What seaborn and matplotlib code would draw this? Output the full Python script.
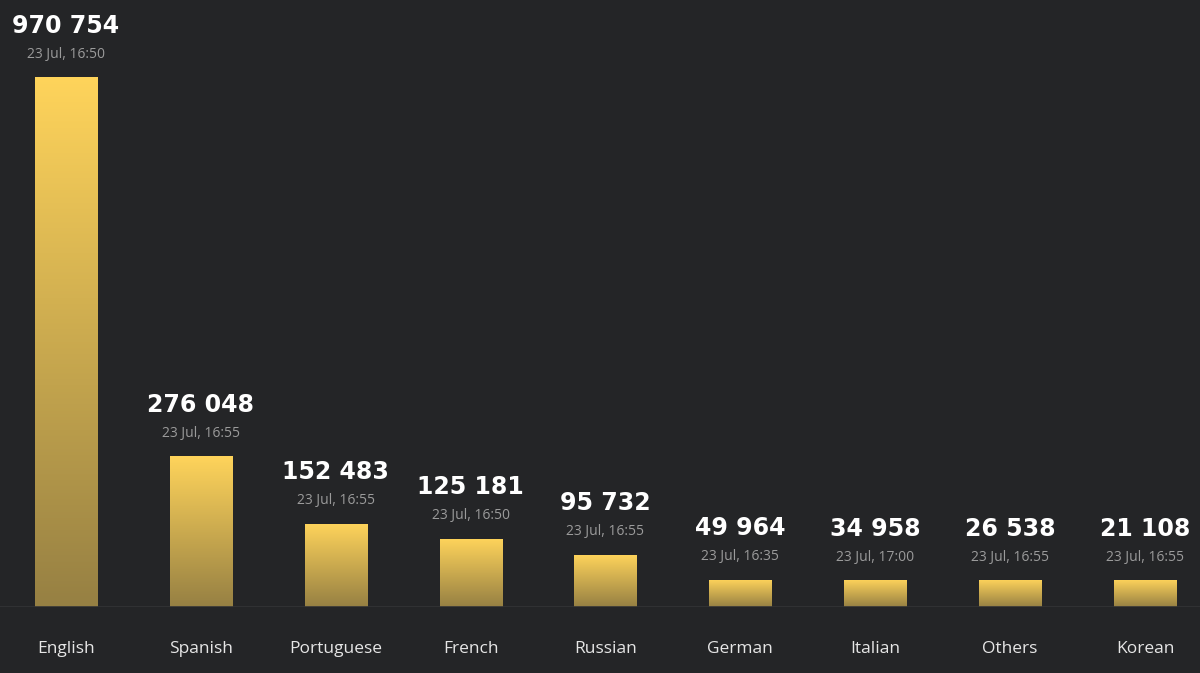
import numpy as np
import pandas as pd
import matplotlib
matplotlib.use("Agg")
import matplotlib.pyplot as plt
import seaborn as sns
from matplotlib.colors import LinearSegmentedColormap

languages = ["English", "Spanish", "Portuguese", "French", "Russian",
             "German", "Italian", "Others", "Korean"]
viewers = [970754, 276048, 152483, 125181, 95732, 49964, 34958, 26538, 21108]
peak_times = ["23 Jul, 16:50", "23 Jul, 16:55", "23 Jul, 16:55", "23 Jul, 16:50",
              "23 Jul, 16:55", "23 Jul, 16:35", "23 Jul, 17:00", "23 Jul, 16:55",
              "23 Jul, 16:55"]

BG = "#242527"

sns.set_theme(style="white")
plt.rcParams["font.family"] = ["Open Sans", "DejaVu Sans"]

df = pd.DataFrame({"language": languages, "viewers": viewers, "peak": peak_times})
# bars get a minimum visible height, like the original widget
df["shown"] = np.maximum(df["viewers"], df["viewers"].max() * 0.051)

fig = plt.figure(figsize=(12, 6.73), dpi=100, facecolor=BG)
ax = fig.add_axes([0, 66 / 673, 1, (607 - 77) / 673])
ax.set_facecolor(BG)

sns.barplot(data=df, x="language", y="shown", ax=ax, width=0.46,
            color="#d4b050", saturation=1, order=languages)

cmap = LinearSegmentedColormap.from_list("gold", ["#968043", "#ffd45b"])
grad = np.linspace(0, 1, 256).reshape(-1, 1)
for patch in ax.patches:
    x0, y0 = patch.get_x(), patch.get_y()
    w, h = patch.get_width(), patch.get_height()
    patch.set_alpha(0)
    im = ax.imshow(grad, cmap=cmap, aspect="auto", origin="lower",
                   extent=(x0, x0 + w, y0, y0 + h), zorder=2)
    im.set_clip_path(patch)

for i, row in df.iterrows():
    ax.annotate(f"{row['viewers']:,}".replace(",", " "), (i, row["shown"]),
                xytext=(0, 37), textcoords="offset points", ha="center", va="center",
                fontsize=17, fontweight="bold", color="white", family="DejaVu Sans",
                annotation_clip=False)
    ax.annotate(row["peak"], (i, row["shown"]), xytext=(0, 16.5),
                textcoords="offset points", ha="center", va="center",
                fontsize=10, color="#9b9b9b", annotation_clip=False)

ax.set_xlim(-0.489, 8.408)
ax.set_ylim(0, df["shown"].max())
ax.axhline(0, color="#333436", lw=1.2, zorder=3)
for s in ax.spines.values():
    s.set_visible(False)
ax.set_xlabel("")
ax.set_ylabel("")
ax.set_yticks([])
ax.tick_params(axis="x", length=0, pad=24.5, labelsize=12.5, labelcolor="#e6e6e6")

fig.savefig("out.png", dpi=100, facecolor=BG)
